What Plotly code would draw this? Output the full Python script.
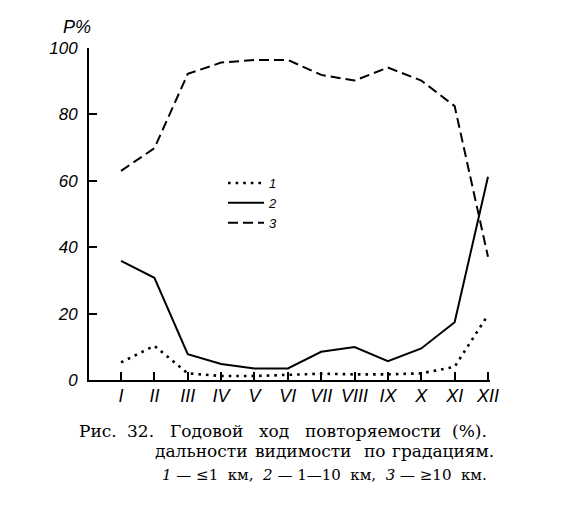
import plotly.graph_objects as go

months = ["I", "II", "III", "IV", "V", "VI", "VII", "VIII", "IX", "X", "XI", "XII"]
month_idx = list(range(1, 13))
s1 = [5.3, 10.3, 2.0, 1.2, 1.2, 1.5, 1.9, 1.7, 1.7, 2.0, 4.0, 19.6]
s2 = [35.9, 30.8, 7.8, 4.8, 3.5, 3.5, 8.5, 9.9, 5.7, 9.5, 17.4, 61.2]
s3 = [63.0, 69.8, 92.2, 95.6, 96.4, 96.4, 91.9, 90.2, 94.1, 90.2, 82.5, 37.1]
series_names = ["1", "2", "3"]
y_ticks = [0, 20, 40, 60, 80, 100]

caption_line1 = ["Рис.", "32.", "Годовой", "ход", "повторяемости", "(%)."]
caption_line2 = ["дальности", "видимости", "по", "градациям."]
caption_line3 = "<i>1</i> — ≤1  км,  <i>2</i> — 1—10  км,  <i>3</i> — ≥10  км."

OFF = 8  # page body margin
W, H = 580 - OFF, 516 - OFF
L, T = 89 - OFF, 48 - OFF
R, B = W - (490 - OFF), H - (380 - OFF)
pw, ph = W - L - R, H - T - B

def px(x):
    return (x - OFF - L) / pw

def py(y):
    return (H - B - (y - OFF)) / ph

fig = go.Figure()
fig.add_trace(go.Scatter(x=month_idx, y=s1, name=series_names[0], mode="lines",
                         line=dict(color="black", width=2.6, dash="2.6px,5px")))
fig.add_trace(go.Scatter(x=month_idx, y=s2, name=series_names[1], mode="lines",
                         line=dict(color="black", width=2)))
fig.add_trace(go.Scatter(x=month_idx, y=s3, name=series_names[2], mode="lines",
                         line=dict(color="black", width=2, dash="10px,5px")))

yfont = dict(family="Liberation Sans", size=17, color="black", style="italic")
xfont = dict(family="Liberation Sans Narrow, Liberation Sans", size=18, color="black", style="italic")

fig.update_layout(
    width=W, height=H,
    margin=dict(l=L, r=R, t=T, b=B),
    paper_bgcolor="white", plot_bgcolor="white",
    showlegend=True,
    legend=dict(x=px(223), y=py(168), xanchor="left", yanchor="top",
                font=dict(family="Liberation Sans", size=13, color="black", style="italic"),
                itemwidth=36, tracegroupgap=0, bgcolor="rgba(0,0,0,0)"),
    xaxis=dict(range=[0.04, 12.06], tickmode="array", tickvals=month_idx, ticktext=months,
               ticks="inside", ticklen=8, tickwidth=1.5, tickcolor="black",
               showline=True, linecolor="black", linewidth=2, ticklabelstandoff=-2,
               showgrid=False, zeroline=False, tickfont=xfont),
    yaxis=dict(range=[0, 100], tickmode="array", tickvals=y_ticks,
               ticks="inside", ticklen=8, tickwidth=1.5, tickcolor="black",
               showline=True, linecolor="black", linewidth=2, ticklabelstandoff=6,
               showgrid=False, zeroline=False, tickfont=yfont),
)

fig.add_annotation(x=px(61), y=py(27), xref="paper", yref="paper", showarrow=False,
                   xanchor="left", yanchor="middle", text="P%",
                   font=dict(family="Liberation Sans", size=18, color="black", style="italic"))

cap_font = dict(family="DejaVu Serif", size=17, color="black")
line1_x = [77, 125, 168, 257, 303, 450]
line2_x = [153, 253, 362, 390]
for word, x in zip(caption_line1, line1_x):
    fig.add_annotation(x=px(x), y=py(431), xref="paper", yref="paper", showarrow=False,
                       xanchor="left", yanchor="middle", text=word, font=cap_font)
for word, x in zip(caption_line2, line2_x):
    fig.add_annotation(x=px(x), y=py(451), xref="paper", yref="paper", showarrow=False,
                       xanchor="left", yanchor="middle", text=word, font=cap_font)
fig.add_annotation(x=px(489), y=py(475), xref="paper", yref="paper", showarrow=False,
                   xanchor="right", yanchor="middle", text=caption_line3,
                   font=dict(family="DejaVu Serif", size=15, color="black"))

fig.write_html("out.html")
